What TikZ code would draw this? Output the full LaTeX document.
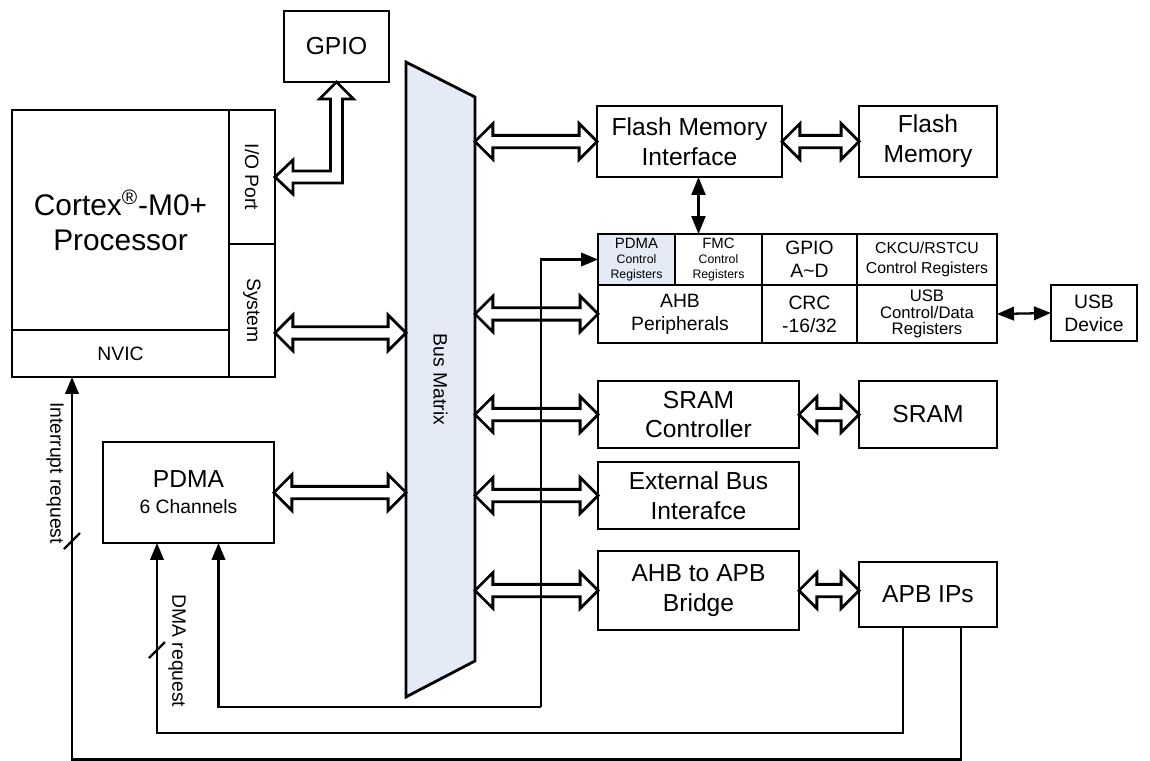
\documentclass[tikz,border=0pt]{standalone}
\usepackage{fontspec}
\setmainfont{Liberation Sans}
\usetikzlibrary{positioning, shapes.arrows, arrows.meta, calc}
\definecolor{busblue}{RGB}{228,234,246}
\tikzset{
  blk/.style={draw, line width=1.6pt, align=center, inner sep=0pt, outer sep=0pt, font=\fontsize{14}{17}\selectfont},
  reg/.style={blk, font=\fontsize{11}{13}\selectfont},
  busarr/.style={double arrow, draw, line width=1.6pt, inner xsep=0pt, inner ysep=0.095cm, outer sep=0pt, double arrow head extend=0.235cm, double arrow tip angle=90},
  sig/.style={line width=1.3pt},
  req/.style={sig, -{Triangle[length=0.34cm, width=0.27cm]}},
  lbl/.style={rotate=-90, font=\fontsize{11}{13}\selectfont, inner sep=0pt}
}
\newcommand{\busarrow}[3]{\path let \p1=(#2), \p2=(#3) in node[busarr, minimum height={abs(\x2-\x1)}] (#1) at ($(\p1)!0.5!(\p2)$) {};}

\begin{document}
\begin{tikzpicture}[x=0.02cm, y=-0.02cm]
\useasboundingbox (0,0) rectangle (1150,761);
% processor
\node[blk, minimum width=4.34cm, minimum height=4.4cm, font=\fontsize{17}{20}\selectfont] (core) at (120.5,220) {Cortex\textsuperscript{\textregistered}-M0+\\Processor};
\node[reg, minimum width=4.34cm, minimum height=0.94cm, below=0pt of core] (nvic) {NVIC};
\node[blk, minimum width=0.92cm, minimum height=2.68cm, anchor=north west] (ioport) at (core.north east) {};
\node[blk, minimum width=0.92cm, minimum height=2.66cm, below=0pt of ioport] (system) {};
\node[lbl] (ioportlbl) at (ioport) {I/O Port};
\node[lbl] (systemlbl) at (system) {System};
\node[blk, minimum width=2.1cm, minimum height=1.42cm] (gpio) at (336.5,46.5) {GPIO};
\node[blk, minimum width=3.42cm, minimum height=2.02cm, font=\fontsize{11}{14.7}\selectfont] (pdma) at (188.5,492.5) {{\fontsize{14}{14.7}\selectfont PDMA}\\6 Channels};

% bus matrix
\node[minimum width=1.38cm, minimum height=12.7cm, inner sep=0pt, outer sep=0pt] (bm) at (440.5,379.5) {};
\draw[line width=1.6pt, fill=busblue] (bm.north west) -- ($(bm.north east)+(0,35)$) -- ($(bm.south east)+(0,-36)$) -- (bm.south west) -- cycle;
\node[lbl] (bmlbl) at (bm) {Bus Matrix};

% memories
\node[blk, minimum width=3.7cm, minimum height=1.42cm] (flashif) at (689.5,141.5) {Flash Memory\\Interface};
\node[blk, minimum width=2.76cm, minimum height=1.42cm] (flash) at (928,141.5) {Flash\\Memory};
\node[blk, minimum width=4.02cm, minimum height=1.34cm] (sramctl) at (698.5,414.5) {SRAM\\Controller};
\node[blk, minimum width=2.76cm, minimum height=1.34cm] (sram) at (928,414.5) {SRAM};
\node[blk, minimum width=4.02cm, minimum height=1.34cm] (ebi) at (698.5,495.5) {External Bus\\Interafce};
\node[blk, minimum width=4.02cm, minimum height=1.58cm] (bridge) at (698.5,590.5) {AHB to APB\\Bridge};
\node[blk, minimum width=2.76cm, minimum height=1.3cm] (apb) at (928,594.5) {APB IPs};

% AHB peripherals
\node[blk, fill=busblue, minimum width=1.54cm, minimum height=1.02cm, font=\fontsize{7}{8.5}\selectfont] (pdmareg) at (636.5,259.5) {{\fontsize{8.5}{8.5}\selectfont PDMA}\\Control\\Registers};
\node[blk, minimum width=1.74cm, minimum height=1.02cm, font=\fontsize{7}{8.5}\selectfont, right=0pt of pdmareg] (fmcreg) {{\fontsize{8.5}{8.5}\selectfont FMC}\\Control\\Registers};
\node[reg, minimum width=1.9cm, minimum height=1.02cm, right=0pt of fmcreg] (gpioreg) {GPIO\\A\textasciitilde D};
\node[blk, minimum width=2.8cm, minimum height=1.02cm, font=\fontsize{9}{11}\selectfont, right=0pt of gpioreg] (ckcu) {CKCU/RSTCU\\Control Registers};
\node[reg, minimum width=3.28cm, minimum height=1.16cm, anchor=north west] (ahb) at (pdmareg.south west) {AHB\\Peripherals};
\node[reg, minimum width=1.9cm, minimum height=1.16cm, right=0pt of ahb] (crc) {CRC\\-16/32};
\node[blk, minimum width=2.8cm, minimum height=1.16cm, font=\fontsize{9.5}{9.5}\selectfont, right=0pt of crc] (usbreg) {USB\\Control/Data\\Registers};
\node[reg, minimum width=1.72cm, minimum height=1.12cm] (usbdev) at (1094,313) {USB\\Device};

% bus connections
\coordinate (sysport) at ($(system.south east)+(0,-44)$);
\busarrow{a1}{sysport}{bm.west |- sysport}
\busarrow{a2}{pdma.east}{bm.west |- pdma.east}
\busarrow{a3}{bm.east |- flashif.west}{flashif.west}
\busarrow{a4}{bm.east |- ahb.west}{ahb.west}
\busarrow{a5}{bm.east |- sramctl.west}{sramctl.west}
\busarrow{a6}{bm.east |- ebi.west}{ebi.west}
\busarrow{a7}{bm.east |- bridge.west}{bridge.west}
\busarrow{a8}{flashif.east}{flash.west}
\busarrow{a9}{sramctl.east}{sram.west}
\busarrow{a10}{bridge.east}{apb.west |- bridge.east}
\draw[line width=1.6pt] let \p1=(gpio.south), \p2=(ioport.east) in (\p1) -- ++(17,17) -- ++(-11,0) -- ($(\x1,\y2)+(6,6)$) -- ($(\p2)+(18,6)$) -- ++(0,11) -- (\p2) -- ++(18,-17) -- ++(0,11) -- ($(\x1,\y2)+(-6,-6)$) -- ($(\p1)+(-6,17)$) -- ++(-11,0) -- cycle;

% signals
\coordinate (fmctop) at ($(fmcreg.north)+(-20,0)$);
\draw[sig, {Triangle[length=0.36cm, width=0.28cm]}-{Triangle[length=0.36cm, width=0.28cm]}] (fmctop |- flashif.south) -- (fmctop);
\draw[sig, {Triangle[length=0.34cm, width=0.27cm]}-{Triangle[length=0.34cm, width=0.27cm]}] (usbreg.east) -- (usbdev.west);
\coordinate (busjoint) at (541,707);
\draw[req] (busjoint) |- (pdmareg.west);
\draw[req] (busjoint) -| ($(pdma.south)+(30,0)$);
\coordinate (dmacorner) at (157,733);
\draw[req] ($(apb.south)+(-25,0)$) |- (dmacorner) -- ($(pdma.south)+(-31.5,0)$);
\coordinate (irqcorner) at (72,759.5);
\draw[req] ($(apb.south)+(33,0)$) |- (irqcorner) -- (irqcorner |- nvic.south);
\coordinate (irqslash) at (72,541);
\coordinate (dmaslash) at (157,650);
\draw[sig] ($(irqslash)+(-8,8)$) -- ($(irqslash)+(8,-8)$);
\draw[sig] ($(dmaslash)+(-8,8)$) -- ($(dmaslash)+(8,-8)$);
\node[lbl] (irqlbl) at (55,473) {Interrupt request};
\node[lbl] (dmalbl) at (177,651) {DMA request};
\end{tikzpicture}
\end{document}
